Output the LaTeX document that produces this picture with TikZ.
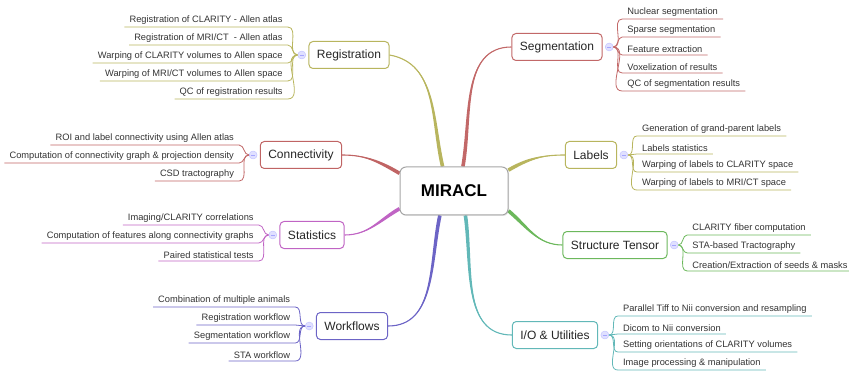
\documentclass[tikz,border=0pt]{standalone}
\usepackage{fontspec}
\setmainfont{Liberation Sans}
\usetikzlibrary{positioning,calc,shadows,backgrounds}

\definecolor{colreg}{HTML}{B8B55E}
\definecolor{colseg}{HTML}{C26868}
\definecolor{colconn}{HTML}{C06464}
\definecolor{colstat}{HTML}{C064C4}
\definecolor{colwork}{HTML}{6C64C6}
\definecolor{collab}{HTML}{B8B55E}
\definecolor{colst}{HTML}{6CB85C}
\definecolor{colio}{HTML}{62B8B8}

\tikzset{
  root/.style={draw=black!35, line width=1pt, rounded corners=6pt, fill=white,
    minimum width=108pt, minimum height=48pt, font=\fontsize{17}{20}\selectfont\bfseries,
    drop shadow={opacity=0.2, shadow xshift=1pt, shadow yshift=-1pt}},
  topic/.style={draw=#1, line width=1pt, rounded corners=4pt, fill=white,
    minimum height=27pt, inner xsep=8pt, text=black!85, font=\fontsize{12}{14}\selectfont},
  leaf/.style={inner xsep=5pt, inner ysep=2pt, text=black!80, font=\fontsize{9.3}{11}\selectfont},
  twig/.style={draw=#1, line width=0.8pt},
  dot/.style={circle, minimum size=8pt, inner sep=0pt, fill=blue!12, draw=blue!25,
    path picture={\draw[blue!35, line width=0.6pt]
      ([xshift=2pt]path picture bounding box.west) -- ([xshift=-2pt]path picture bounding box.east);}},
}

% tapered main branch: colour, from, to, out, in
\newcommand\limb[5]{%
  \fill[#1] ($(#2)+(#4+90:1.8)$) to[out=#4,in=#5] (#3) to[out=#5,in=#4] ($(#2)+(#4-90:1.8)$) -- cycle;
  \draw[#1, line width=1.1pt] (#2) to[out=#4,in=#5] (#3);
}

\begin{document}
\begin{tikzpicture}[x=1pt, y=1pt]
  \useasboundingbox (0,0) rectangle (849,370);

  \node[root] (root) at (454,179) {MIRACL};

  % topics
  \node[topic=colreg]  (reg)  at (349,315) {Registration};
  \node[topic=colconn] (conn) at (301,215) {Connectivity};
  \node[topic=colstat] (stat) at (312,135) {Statistics};
  \node[topic=colwork] (work) at (352,44)  {Workflows};
  \node[topic=colseg]  (seg)  at (557,323) {Segmentation};
  \node[topic=collab]  (lab)  at (591,215) {Labels};
  \node[topic=colst]   (sten) at (615,125) {Structure Tensor};
  \node[topic=colio]   (io)   at (555,35)  {I/O \& Utilities};

  \node[dot, left=2.5pt of reg]   (regdot)  {};
  \node[dot, left=2.5pt of conn]  (conndot) {};
  \node[dot, left=2.5pt of stat]  (statdot) {};
  \node[dot, left=2.5pt of work]  (workdot) {};
  \node[dot, right=2.5pt of seg]  (segdot)  {};
  \node[dot, right=2.5pt of lab]  (labdot)  {};
  \node[dot, right=2.5pt of sten] (stendot) {};
  \node[dot, right=2.5pt of io]   (iodot)   {};

  \begin{scope}[on background layer]
    \limb{colreg}{root.115}{reg.east}{103}{-10}
    \limb{colseg}{root.70}{seg.west}{80}{180}
    \limb{colconn}{root.162}{conn.east}{150}{0}
    \limb{colstat}{root.198}{stat.east}{210}{0}
    \limb{colwork}{root.240}{work.east}{258}{0}
    \limb{colio}{root.295}{io.west}{278}{180}
    \limb{collab}{root.21}{lab.west}{30}{180}
    \limb{colst}{root.340}{sten.west}{-40}{180}
  \end{scope}

  % left side leaves
  \foreach \txt [count=\i] in {Registration of CLARITY - Allen atlas,
      Registration of MRI/CT~ - Allen atlas, Warping of CLARITY volumes to Allen space,
      Warping of MRI/CT volumes to Allen space, QC of registration results}{
    \node[leaf, anchor=south east] (reg-\i) at ($(regdot)+(-14,{-8-(\i-3)*18})$) {\txt};
    \draw[twig=colreg] (reg-\i.south west) -- (reg-\i.south east) to[out=0,in=180] (regdot.west);
  }
  \foreach \txt [count=\i] in {ROI and label connectivity using Allen atlas,
      Computation of connectivity graph \& projection density, CSD tractography}{
    \node[leaf, anchor=south east] (conn-\i) at ($(conndot)+(-14,{-8-(\i-2)*18})$) {\txt};
    \draw[twig=colconn] (conn-\i.south west) -- (conn-\i.south east) to[out=0,in=180] (conndot.west);
  }
  \foreach \txt [count=\i] in {Imaging/CLARITY correlations,
      Computation of features along connectivity graphs, Paired statistical tests}{
    \node[leaf, anchor=south east] (stat-\i) at ($(statdot)+(-14,{-8-(\i-2)*18})$) {\txt};
    \draw[twig=colstat] (stat-\i.south west) -- (stat-\i.south east) to[out=0,in=180] (statdot.west);
  }
  \foreach \txt [count=\i] in {Combination of multiple animals, Registration workflow,
      Segmentation workflow, STA workflow}{
    \node[leaf, anchor=south east] (work-\i) at ($(workdot)+(-14,{-8-(\i-2.5)*18})$) {\txt};
    \draw[twig=colwork] (work-\i.south west) -- (work-\i.south east) to[out=0,in=180] (workdot.west);
  }

  % right side leaves
  \foreach \txt [count=\i] in {Nuclear segmentation, Sparse segmentation, Feature extraction,
      Voxelization of results, QC of segmentation results}{
    \node[leaf, anchor=south west] (seg-\i) at ($(segdot)+(13,{-8-(\i-3)*18})$) {\txt};
    \draw[twig=colseg] (seg-\i.south east) -- (seg-\i.south west) to[out=180,in=0] (segdot.east);
  }
  \foreach \txt [count=\i] in {Generation of grand-parent labels, Labels statistics,
      Warping of labels to CLARITY space, Warping of labels to MRI/CT space}{
    \node[leaf, anchor=south west] (lab-\i) at ($(labdot)+(13,{-8-(\i-2.5)*18})$) {\txt};
    \draw[twig=collab] (lab-\i.south east) -- (lab-\i.south west) to[out=180,in=0] (labdot.east);
  }
  \foreach \txt [count=\i] in {CLARITY fiber computation, STA-based Tractography,
      Creation/Extraction of seeds \& masks}{
    \node[leaf, anchor=south west] (sten-\i) at ($(stendot)+(13,{-8-(\i-2)*18})$) {\txt};
    \draw[twig=colst] (sten-\i.south east) -- (sten-\i.south west) to[out=180,in=0] (stendot.east);
  }
  \foreach \txt [count=\i] in {Parallel Tiff to Nii conversion and resampling, Dicom to Nii conversion,
      Setting orientations of CLARITY volumes, Image processing \& manipulation}{
    \node[leaf, anchor=south west] (io-\i) at ($(iodot)+(13,{-8-(\i-2.5)*18})$) {\txt};
    \draw[twig=colio] (io-\i.south east) -- (io-\i.south west) to[out=180,in=0] (iodot.east);
  }
\end{tikzpicture}
\end{document}
